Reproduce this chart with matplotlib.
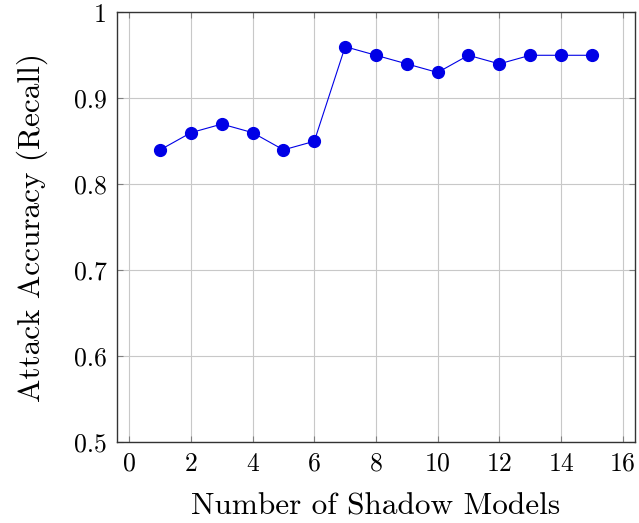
import matplotlib
matplotlib.use("Agg")
import matplotlib.pyplot as plt

plt.rcParams['font.family'] = 'cmr10'
plt.rcParams['mathtext.fontset'] = 'cm'
plt.rcParams['axes.formatter.use_mathtext'] = True

shadow_models = [1, 2, 3, 4, 5, 6, 7, 8, 9, 10, 11, 12, 13, 14, 15]
recall = [0.84, 0.86, 0.87, 0.86, 0.84, 0.85, 0.96, 0.95, 0.94, 0.93, 0.95, 0.94, 0.95, 0.95, 0.95]
xticks = [0, 2, 4, 6, 8, 10, 12, 14, 16]
yticks = [0.5, 0.6, 0.7, 0.8, 0.9, 1.0]
yticklabels = ['0.5', '0.6', '0.7', '0.8', '0.9', '1']

fig = plt.figure(figsize=(6.39, 5.23), dpi=100)
ax = fig.add_axes([0.1826, 0.1545, 0.8111, 0.8220])

ax.plot(shadow_models, recall, color=(0, 0, 0.9), lw=0.8, marker='o', markersize=8.5)

ax.set_xlim(-0.41, 16.4)
ax.set_ylim(0.5, 1.0)
ax.set_xticks(xticks)
ax.set_yticks(yticks)
ax.set_yticklabels(yticklabels)
ax.grid(True, color='#c8c8c8', lw=0.8)
ax.set_axisbelow(True)
ax.tick_params(direction='in', top=True, right=True, length=4, color='#808080',
               labelsize=18.5, pad=7)
for s in ax.spines.values():
    s.set_linewidth(1.0)
    s.set_color('#333333')

ax.set_xlabel('Number of Shadow Models', fontsize=22.5, labelpad=12)
ax.set_ylabel('Attack Accuracy (Recall)', fontsize=22.5, labelpad=19)

fig.savefig('out.png', dpi=100)
